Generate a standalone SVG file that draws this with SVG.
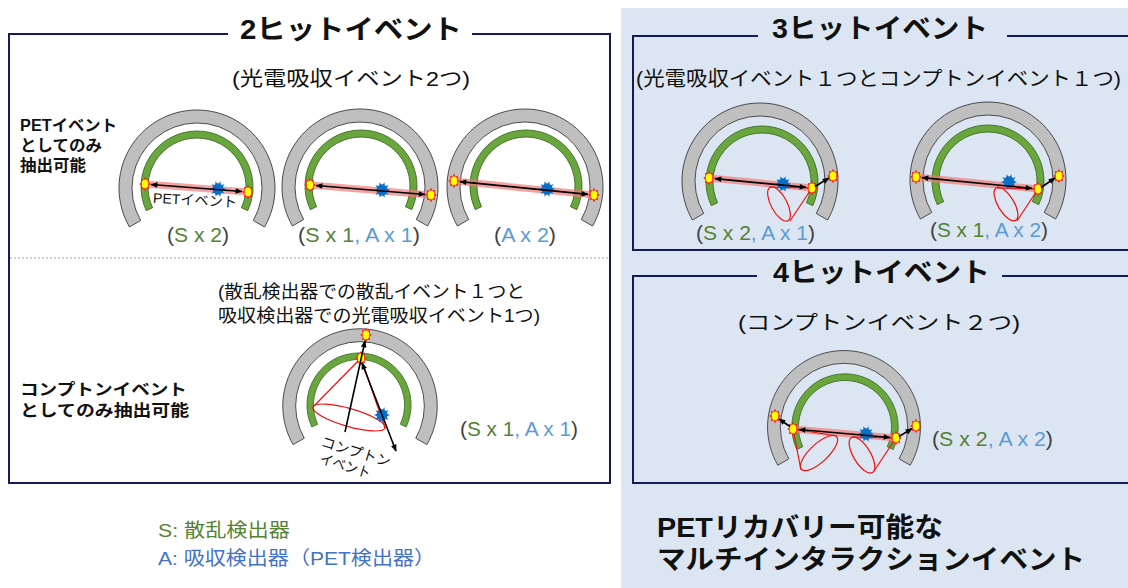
<svg xmlns="http://www.w3.org/2000/svg" xmlns:xlink="http://www.w3.org/1999/xlink" width="1128" height="588" viewBox="0 0 1128 588">
  <style>
    text { font-family: "Liberation Sans", "Noto Sans CJK JP", sans-serif; fill: #111; }
    .title { font-size: 27px; font-weight: bold; }
    .sub { font-size: 20px; }
    .note { font-size: 16px; font-weight: bold; }
    .cnt { font-size: 20px; fill: #404040; }
    .s { fill: #548235; }
    .a { fill: #5b9bd5; }
    .frame { fill: none; stroke: #141a5c; stroke-width: 2; }
    .ring { fill: #bfbfbf; stroke: #3a3a3a; stroke-width: 0.9; }
    .det { fill: #6aa63e; stroke: #3f6a26; stroke-width: 0.9; }
    .band { stroke: #f07a7a; stroke-opacity: 0.7; stroke-width: 7; }
    .cone { fill: none; stroke: #ee1111; stroke-width: 1.2; }
    .ray { stroke: #000; stroke-width: 1.6; fill: none; }
  </style>
  <defs>
    <marker id="arr" viewBox="0 0 10 10" refX="9" refY="5" markerWidth="8" markerHeight="7" orient="auto-start-reverse" markerUnits="userSpaceOnUse">
      <path d="M0,1 L10,5 L0,9 z" fill="#000"/>
    </marker>
    <!-- outer absorber arc (240 deg) -->
    <path id="absorber" class="ring" d="M -67.55 39 A 78 78 0 1 1 67.55 39 L 56.29 32.5 A 65 65 0 1 0 -56.29 32.5 Z"/>
    <!-- inner scatterer arc -->
    <path id="scatterer" class="det" d="M -50.75 23.67 A 56 56 0 1 1 50.75 23.67 L 44.41 20.71 A 49 49 0 1 0 -44.41 20.71 Z"/>
    <!-- detection spot -->
    <g id="hit">
      <polygon transform="scale(0.95,1.2)" fill="#ff1a1a" points="6,0 3.7,1.53 4.24,4.24 1.53,3.7 0,6 -1.53,3.7 -4.24,4.24 -3.7,1.53 -6,0 -3.7,-1.53 -4.24,-4.24 -1.53,-3.7 0,-6 1.53,-3.7 4.24,-4.24 3.7,-1.53"/>
      <ellipse rx="3.3" ry="4.4" fill="#ffff00"/>
    </g>
    <!-- annihilation source -->
    <g id="src">
      <polygon transform="scale(1.15)" fill="#0b6fc6" points="7,0 3.8,1.24 5.66,4.11 2.35,3.24 2.16,6.66 0,4 -2.16,6.66 -2.35,3.24 -5.66,4.11 -3.8,1.24 -7,0 -3.8,-1.24 -5.66,-4.11 -2.35,-3.24 -2.16,-6.66 0,-4 2.16,-6.66 2.35,-3.24 5.66,-4.11 3.8,-1.24"/>
      <ellipse rx="5.4" ry="5.8" fill="#0b6fc6"/>
    </g>
  </defs>

  <!-- right-hand backdrop -->
  <rect x="621" y="8" width="507" height="580" fill="#dce6f2"/>

  <!-- ===== 2-hit panel ===== -->
  <g id="panel-2hit">
    <path class="frame" d="M 228 34 H 9 V 483 H 610 V 34 H 472"/>
    <text class="title" x="240" y="39" textLength="222" lengthAdjust="spacingAndGlyphs">2ヒットイベント</text>
    <text class="sub" x="232" y="86" font-size="21" textLength="238" lengthAdjust="spacingAndGlyphs">(光電吸収イベント2つ)</text>
    <line x1="10" y1="258" x2="609" y2="258" stroke="#8a8a8a" stroke-width="0.8" stroke-dasharray="2,2"/>
    <text class="note" x="20" y="131" textLength="97" lengthAdjust="spacingAndGlyphs">PETイベント</text>
    <text class="note" x="20" y="151" textLength="82" lengthAdjust="spacingAndGlyphs">としてのみ</text>
    <text class="note" x="20" y="171" textLength="66" lengthAdjust="spacingAndGlyphs">抽出可能</text>
    <text class="note" x="20" y="395" font-size="17" textLength="167" lengthAdjust="spacingAndGlyphs">コンプトンイベント</text>
    <text class="note" x="20" y="416" font-size="17" textLength="169" lengthAdjust="spacingAndGlyphs">としてのみ抽出可能</text>
    <text x="218" y="298" font-size="18" textLength="307" lengthAdjust="spacingAndGlyphs">(散乱検出器での散乱イベント１つと</text>
    <text x="218" y="322" font-size="18" textLength="322" lengthAdjust="spacingAndGlyphs">吸収検出器での光電吸収イベント1つ)</text>
  </g>

  <!-- ring: two scatterer hits -->
  <g id="ring-ss">
    <use xlink:href="#absorber" transform="translate(197,188)"/>
    <use xlink:href="#scatterer" transform="translate(197,187)"/>
    <line class="band" x1="145" y1="184" x2="248" y2="192"/>
    <use xlink:href="#src" x="218" y="189"/>
    <use xlink:href="#hit" x="145" y="184"/>
    <use xlink:href="#hit" x="248" y="192"/>
    <text x="153" y="205" font-size="14" transform="rotate(3,195,200)" textLength="84" lengthAdjust="spacingAndGlyphs">PETイベント</text>
    <text class="cnt" x="167" y="242" textLength="62" lengthAdjust="spacingAndGlyphs">(<tspan class="s">S x 2</tspan>)</text>
  </g>

  <!-- ring: one scatterer hit, one absorber hit -->
  <g id="ring-sa">
    <use xlink:href="#absorber" transform="translate(360,187)"/>
    <use xlink:href="#scatterer" transform="translate(361,186)"/>
    <line class="band" x1="310" y1="185" x2="431" y2="195"/>
    <use xlink:href="#src" x="382" y="190"/>
    <use xlink:href="#hit" x="310" y="185"/>
    <use xlink:href="#hit" x="431" y="195"/>
    <text class="cnt" x="298" y="242" textLength="122" lengthAdjust="spacingAndGlyphs">(<tspan class="s">S x 1</tspan><tspan class="a">, A x 1</tspan>)</text>
  </g>

  <!-- ring: two absorber hits -->
  <g id="ring-aa">
    <use xlink:href="#absorber" transform="translate(525,187)"/>
    <use xlink:href="#scatterer" transform="translate(526,186)"/>
    <line class="band" x1="454" y1="181" x2="594" y2="195"/>
    <use xlink:href="#src" x="547" y="189"/>
    <use xlink:href="#hit" x="454" y="181"/>
    <use xlink:href="#hit" x="594" y="195"/>
    <text class="cnt" x="494" y="242" textLength="62" lengthAdjust="spacingAndGlyphs">(<tspan class="a">A x 2</tspan>)</text>
  </g>

  <!-- ring: compton event -->
  <g id="ring-compton">
    <use xlink:href="#absorber" transform="translate(360,406) scale(0.99)"/>
    <use xlink:href="#scatterer" transform="translate(359,405) scale(0.93)"/>
    <line class="cone" x1="361" y1="358" x2="313" y2="407"/>
    <line class="cone" x1="361" y1="358" x2="385" y2="428"/>
    <ellipse class="cone" cx="349" cy="417.5" rx="37.5" ry="9" transform="rotate(16,349,417.5)"/>
    <use xlink:href="#src" x="382" y="415"/>
    <use xlink:href="#hit" x="366" y="335"/>
    <use xlink:href="#hit" x="361" y="358"/>
    <text x="320" y="446" font-size="14" transform="rotate(17,320,446)" textLength="72" lengthAdjust="spacingAndGlyphs">コンプトン</text>
    <text x="319" y="463" font-size="14" transform="rotate(17,319,463)" textLength="52" lengthAdjust="spacingAndGlyphs">イベント</text>
    <text class="cnt" x="460" y="436" textLength="118" lengthAdjust="spacingAndGlyphs">(<tspan class="s">S x 1</tspan><tspan class="a">, A x 1</tspan>)</text>
  </g>

  <!-- legend -->
  <g id="legend">
    <text x="158" y="537" font-size="19" class="s" textLength="132" lengthAdjust="spacingAndGlyphs">S: 散乱検出器</text>
    <text x="158" y="565" font-size="19" style="fill:#4472c4" textLength="277" lengthAdjust="spacingAndGlyphs">A: 吸収検出器（PET検出器）</text>
  </g>

  <!-- ===== 3-hit panel ===== -->
  <g id="panel-3hit">
    <path class="frame" d="M 758 36 H 633 V 250 H 1128 M 1007 36 H 1128"/>
    <text class="title" x="772" y="38" textLength="216" lengthAdjust="spacingAndGlyphs">3ヒットイベント</text>
    <text class="sub" x="636" y="86" textLength="485" lengthAdjust="spacingAndGlyphs">(光電吸収イベント１つとコンプトンイベント１つ)</text>
  </g>

  <g id="ring-ssa">
    <use xlink:href="#absorber" transform="translate(760,181)"/>
    <use xlink:href="#scatterer" transform="translate(762,182)"/>
    <line class="band" x1="709" y1="178" x2="812" y2="188"/>
    <line class="cone" x1="812" y1="188" x2="769" y2="187"/>
    <line class="cone" x1="812" y1="188" x2="790" y2="221"/>
    <ellipse class="cone" cx="779" cy="204" rx="19" ry="8" transform="rotate(62,779,204)"/>
    <use xlink:href="#src" x="783" y="184"/>
    <use xlink:href="#hit" x="709" y="178"/>
    <use xlink:href="#hit" x="812" y="188"/>
    <use xlink:href="#hit" x="833" y="176"/>
    <text class="cnt" x="696" y="240" textLength="119" lengthAdjust="spacingAndGlyphs">(<tspan class="s">S x 2</tspan><tspan class="a">, A x 1</tspan>)</text>
  </g>

  <g id="ring-saa">
    <use xlink:href="#absorber" transform="translate(988,180)"/>
    <use xlink:href="#scatterer" transform="translate(988,181)"/>
    <line class="band" x1="916" y1="177" x2="1038" y2="189"/>
    <line class="cone" x1="1038" y1="189" x2="997" y2="188"/>
    <line class="cone" x1="1038" y1="189" x2="1017" y2="221"/>
    <ellipse class="cone" cx="1006" cy="204" rx="19" ry="8" transform="rotate(59,1006,204)"/>
    <use xlink:href="#src" x="1009" y="182"/>
    <use xlink:href="#hit" x="916" y="177"/>
    <use xlink:href="#hit" x="1038" y="189"/>
    <use xlink:href="#hit" x="1059" y="176"/>
    <text class="cnt" x="930" y="237" textLength="118" lengthAdjust="spacingAndGlyphs">(<tspan class="s">S x 1</tspan><tspan class="a">, A x 2</tspan>)</text>
  </g>

  <!-- ===== 4-hit panel ===== -->
  <g id="panel-4hit">
    <path class="frame" d="M 757 276 H 633 V 483 H 1128 M 1002 276 H 1128"/>
    <text class="title" x="773" y="282" textLength="217" lengthAdjust="spacingAndGlyphs">4ヒットイベント</text>
    <text class="sub" x="738" y="330" textLength="282" lengthAdjust="spacingAndGlyphs">(コンプトンイベント２つ)</text>
  </g>

  <g id="ring-ssaa">
    <use xlink:href="#absorber" transform="translate(844,427) scale(0.98)"/>
    <use xlink:href="#scatterer" transform="translate(845,427) scale(0.95)"/>
    <line class="band" x1="793" y1="429" x2="896" y2="438"/>
    <line class="cone" x1="793" y1="429" x2="837" y2="436"/>
    <line class="cone" x1="793" y1="429" x2="801" y2="470"/>
    <ellipse class="cone" cx="819" cy="453" rx="24" ry="9" transform="rotate(-43,819,453)"/>
    <line class="cone" x1="896" y1="438" x2="852" y2="437"/>
    <line class="cone" x1="896" y1="438" x2="874" y2="471"/>
    <ellipse class="cone" cx="862" cy="455" rx="20.5" ry="8.5" transform="rotate(59,862,455)"/>
    <use xlink:href="#src" x="866" y="434"/>
    <use xlink:href="#hit" x="775" y="416"/>
    <use xlink:href="#hit" x="793" y="429"/>
    <use xlink:href="#hit" x="896" y="438"/>
    <use xlink:href="#hit" x="916" y="426"/>
    <text class="cnt" x="932" y="446" textLength="121" lengthAdjust="spacingAndGlyphs">(<tspan class="s">S x 2</tspan><tspan class="a">, A x 2</tspan>)</text>
  </g>

  <g id="summary">
    <text class="title" x="657" y="537" textLength="286" lengthAdjust="spacingAndGlyphs">PETリカバリー可能な</text>
    <text class="title" x="657" y="569" textLength="428" lengthAdjust="spacingAndGlyphs">マルチインタラクションイベント</text>
  </g>

  <!-- photon paths -->
  <g id="connectors">
    <line class="ray" x1="151" y1="184.5" x2="242" y2="191.5" marker-start="url(#arr)" marker-end="url(#arr)"/>
    <line class="ray" x1="316" y1="185.5" x2="425" y2="194.5" marker-start="url(#arr)" marker-end="url(#arr)"/>
    <line class="ray" x1="460" y1="181.6" x2="588" y2="194.4" marker-start="url(#arr)" marker-end="url(#arr)"/>
    <line class="ray" x1="345" y1="432" x2="365" y2="341" marker-end="url(#arr)"/>
    <line class="ray" x1="362" y1="363" x2="396" y2="451" marker-start="url(#arr)" marker-end="url(#arr)"/>
    <line class="ray" x1="715" y1="178.6" x2="806" y2="187.4" marker-start="url(#arr)" marker-end="url(#arr)"/>
    <line class="ray" x1="815" y1="186.5" x2="829" y2="178" marker-end="url(#arr)"/>
    <line class="ray" x1="922" y1="177.6" x2="1032" y2="188.4" marker-start="url(#arr)" marker-end="url(#arr)"/>
    <line class="ray" x1="1041" y1="187.5" x2="1055" y2="178" marker-end="url(#arr)"/>
    <line class="ray" x1="799" y1="429.5" x2="890" y2="437.5" marker-start="url(#arr)" marker-end="url(#arr)"/>
    <line class="ray" x1="790" y1="426.5" x2="779" y2="419" marker-end="url(#arr)"/>
    <line class="ray" x1="899" y1="436.5" x2="912" y2="428.5" marker-end="url(#arr)"/>
  </g>
</svg>
